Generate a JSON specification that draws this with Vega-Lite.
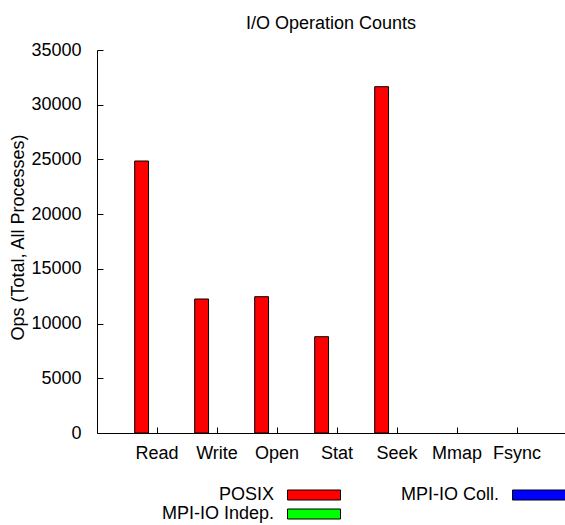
{
  "$schema": "https://vega.github.io/schema/vega-lite/v6.json",
  "width": 468,
  "height": 383,
  "autosize": {"type": "none"},
  "padding": {"left": 97, "top": 50, "right": 0, "bottom": 92},
  "background": "white",
  "title": {"text": "I/O Operation Counts", "fontSize": 18, "font": "Liberation Sans", "fontWeight": "normal", "anchor": "middle", "baseline": "alphabetic", "offset": -6, "color": "black"},
  "config": {
    "view": {"stroke": null},
    "font": "Liberation Sans",
    "axis": {"grid": false, "domainColor": "black", "tickColor": "black", "labelColor": "black", "labelFont": "Liberation Sans", "labelFontSize": 18, "titleFont": "Liberation Sans", "titleFontSize": 18, "titleFontWeight": "normal", "titleColor": "black"}
  },
  "data": {"values": [
    {"op": "Read", "api": "POSIX", "ops": 24856},
    {"op": "Write", "api": "POSIX", "ops": 12245},
    {"op": "Open", "api": "POSIX", "ops": 12456},
    {"op": "Stat", "api": "POSIX", "ops": 8800},
    {"op": "Seek", "api": "POSIX", "ops": 31647},
    {"op": "Mmap", "api": "POSIX", "ops": 0},
    {"op": "Fsync", "api": "POSIX", "ops": 0},
    {"op": "Read", "api": "MPI-IO Indep.", "ops": 0},
    {"op": "Write", "api": "MPI-IO Indep.", "ops": 0},
    {"op": "Open", "api": "MPI-IO Indep.", "ops": 0},
    {"op": "Stat", "api": "MPI-IO Indep.", "ops": 0},
    {"op": "Seek", "api": "MPI-IO Indep.", "ops": 0},
    {"op": "Mmap", "api": "MPI-IO Indep.", "ops": 0},
    {"op": "Fsync", "api": "MPI-IO Indep.", "ops": 0},
    {"op": "Read", "api": "MPI-IO Coll.", "ops": 0},
    {"op": "Write", "api": "MPI-IO Coll.", "ops": 0},
    {"op": "Open", "api": "MPI-IO Coll.", "ops": 0},
    {"op": "Stat", "api": "MPI-IO Coll.", "ops": 0},
    {"op": "Seek", "api": "MPI-IO Coll.", "ops": 0},
    {"op": "Mmap", "api": "MPI-IO Coll.", "ops": 0},
    {"op": "Fsync", "api": "MPI-IO Coll.", "ops": 0}
  ]},
  "transform": [{"filter": "datum.ops > 0"}],
  "mark": {"type": "bar", "stroke": "black", "strokeWidth": 1},
  "encoding": {
    "x": {
      "field": "op", "type": "nominal",
      "scale": {"domain": ["Read", "Write", "Open", "Stat", "Seek", "Mmap", "Fsync"], "paddingInner": 0, "paddingOuter": 0.4, "align": 0.625},
      "axis": {"title": null, "labelAngle": 0, "tickSize": -6, "labelPadding": 17}
    },
    "xOffset": {
      "field": "api", "type": "nominal",
      "scale": {"domain": ["POSIX", "MPI-IO Indep.", "MPI-IO Coll."], "paddingInner": 0.1, "paddingOuter": 0.5}
    },
    "y": {
      "field": "ops", "type": "quantitative",
      "scale": {"domain": [0, 35000], "nice": false},
      "axis": {"values": [0, 5000, 10000, 15000, 20000, 25000, 30000, 35000], "format": "d", "title": "Ops (Total, All Processes)", "tickSize": -6, "labelPadding": 22, "titleX": -74, "titleY": 187, "titleBaseline": "alphabetic", "titleAngle": 270, "titleAlign": "center"}
    },
    "color": {
      "field": "api", "type": "nominal",
      "scale": {"domain": ["POSIX", "MPI-IO Indep.", "MPI-IO Coll."], "range": ["#ff0000", "#00ff00", "#0000ff"]},
      "legend": {"title": null, "orient": "none", "legendX": 208, "legendY": 436, "columns": 2, "symbolType": "M-5.3,-1H5.3V1H-5.3Z", "symbolSize": 100, "symbolStrokeColor": "black", "symbolStrokeWidth": 1, "symbolOpacity": 1, "labelAlign": "right", "labelOffset": -49, "labelFontSize": 18, "labelFont": "Liberation Sans", "labelColor": "black", "labelLimit": 300, "columnPadding": 57, "rowPadding": 1, "padding": 0}
    }
  }
}
